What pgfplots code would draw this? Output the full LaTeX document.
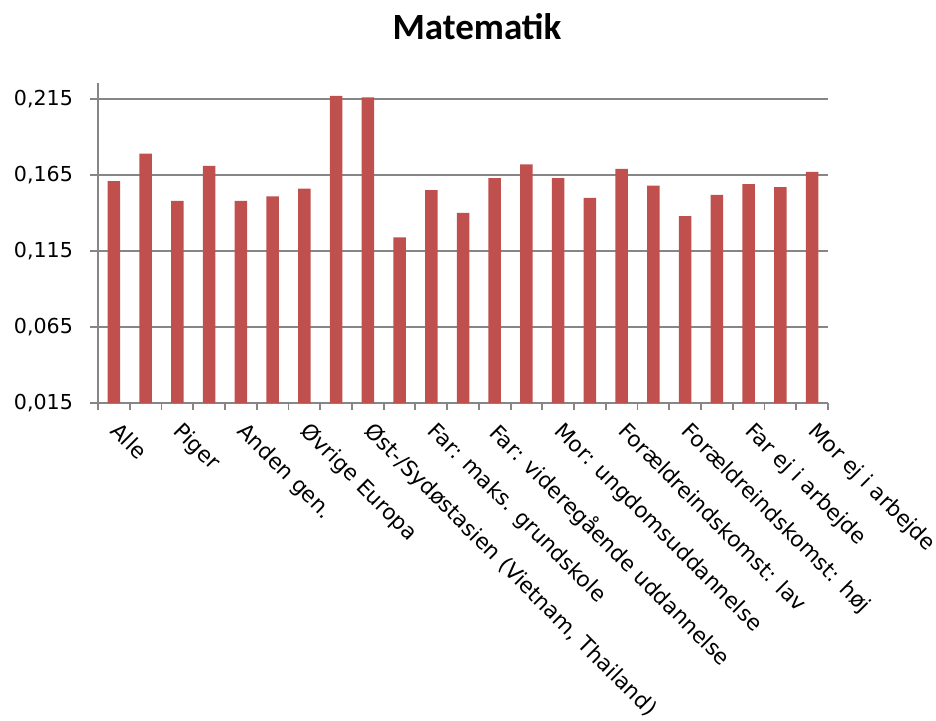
\documentclass[border=0pt]{standalone}
\usepackage{pgfplots}
\pgfplotsset{compat=1.18}
\usepackage{fontspec}
\setmainfont{DejaVu Sans}
\newfontfamily\titlefont{Carlito}
\definecolor{barred}{RGB}{192,80,77}
\definecolor{axgray}{RGB}{134,134,134}
\begin{document}
\begin{tikzpicture}
\useasboundingbox (-49pt,-158.5pt) rectangle (419pt,201.5pt);
\begin{axis}[
  scale only axis,
  width=365pt, height=160pt,
  xmin=0.5, xmax=23.5,
  ymin=0.015, ymax=0.2255,
  axis x line*=bottom, axis y line*=left,
  axis line style={axgray, line width=0.9pt, -},
  ybar, bar width=6.25pt,
  ytick={0.015,0.065,0.115,0.165,0.215},
  ymajorgrids, grid style={axgray, line width=0.9pt},
  ytick style={axgray, line width=0.9pt},
  tick align=outside,
  major tick length=4pt,
  xtick={1,3,...,23},
  major x tick style={draw=none},
  minor xtick={0.5,1.5,...,23.5},
  minor x tick style={axgray, line width=0.9pt},
  minor tick length=3.5pt,
  xticklabels={Alle, Piger, Anden gen., Øvrige Europa, {Øst-/Sydøstasien (Vietnam, Thailand)}, Far: maks. grundskole, Far: videregående uddannelse, Mor: ungdomsuddannelse, Forældreindskomst: lav, Forældreindskomst: høj, Far ej i arbejde, Mor ej i arbejde},
  % shifts act in the rotated frame
  xticklabel style={rotate=-45, anchor=north west, inner sep=0pt, font=\fontsize{10.8}{12}\selectfont, xshift=5.8pt, yshift=-0.8pt},
  yticklabel style={font=\fontsize{10.3}{12}\selectfont, xshift=-5pt},
  /pgf/number format/.cd, fixed, fixed zerofill, precision=3, use comma, assume math mode=true,
]
\addplot[fill=barred, draw=none] coordinates {
  (1,0.161) (2,0.179) (3,0.148) (4,0.171) (5,0.148) (6,0.151) (7,0.156)
  (8,0.217) (9,0.216) (10,0.124) (11,0.155) (12,0.140) (13,0.163) (14,0.172)
  (15,0.163) (16,0.150) (17,0.169) (18,0.158) (19,0.138) (20,0.152) (21,0.159)
  (22,0.157) (23,0.167)
};
\end{axis}
\node[anchor=base, font=\titlefont\bfseries\fontsize{18.5}{22}\selectfont] at (189.5pt,182pt) {Matematik};
\end{tikzpicture}
\end{document}
